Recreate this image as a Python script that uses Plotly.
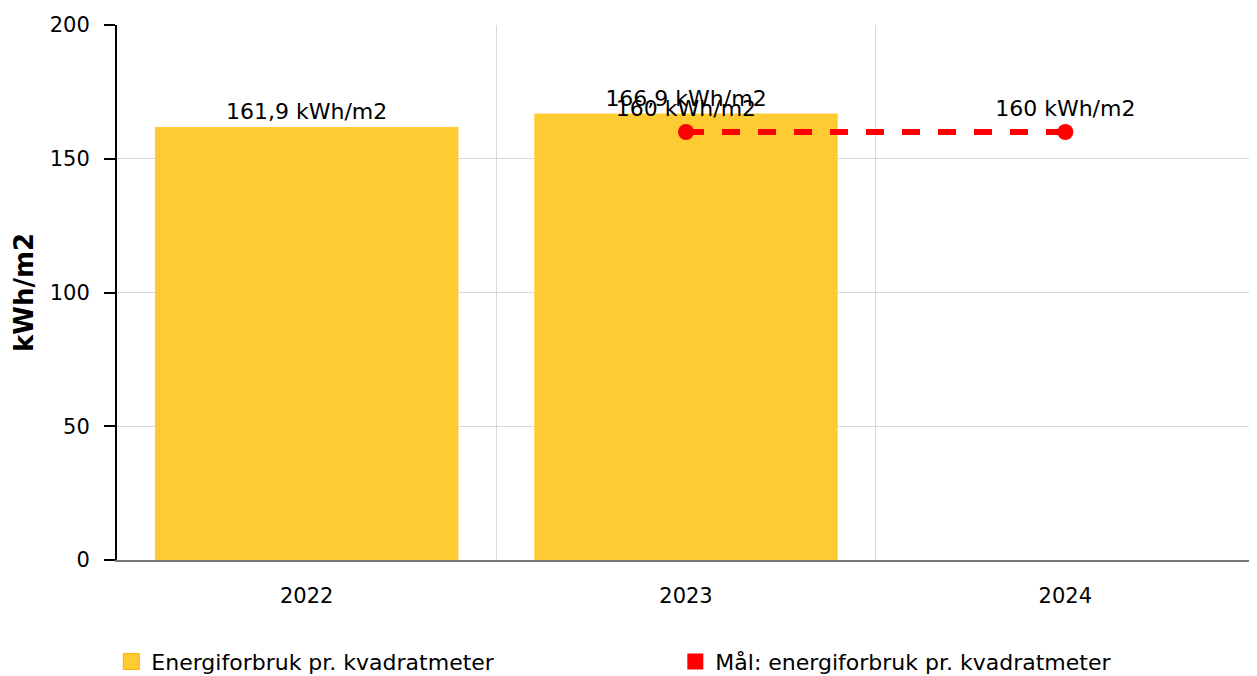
import plotly.graph_objects as go

# Dados
anos = ['2022', '2023', '2024']
forbruk_anos = ['2022', '2023']
forbruk = [161.9, 166.9]
forbruk_tekst = ['161,9 kWh/m2', '166,9 kWh/m2']
maal_anos = ['2023', '2024']
maal = [160, 160]
maal_tekst = ['160 kWh/m2', '160 kWh/m2']

navn_forbruk = 'Energiforbruk pr. kvadratmeter'
navn_maal = 'Mål: energiforbruk pr. kvadratmeter'

fonte = 'DejaVu Sans, Verdana, sans-serif'

fig = go.Figure()

fig.add_trace(go.Bar(
    x=forbruk_anos,
    y=forbruk,
    name=navn_forbruk,
    text=forbruk_tekst,
    textposition='outside',
    cliponaxis=False,
    textfont=dict(size=22, color='black', family=fonte),
    marker=dict(color='#FFCB33', line=dict(width=0)),
    width=0.8,
    showlegend=False
))

fig.add_trace(go.Scatter(
    x=maal_anos,
    y=maal,
    name=navn_maal,
    mode='lines+markers+text',
    text=maal_tekst,
    textposition='top center',
    textfont=dict(size=22, color='black', family=fonte),
    line=dict(color='#FF0000', width=6, dash='18px,18px'),
    marker=dict(color='#FF0000', size=16),
    cliponaxis=False,
    showlegend=False
))

# bare for legenden (firkanter)
fig.add_trace(go.Scatter(
    x=[None], y=[None], mode='markers', name=navn_forbruk,
    marker=dict(symbol='square', size=16, color='#FFCB33',
                line=dict(color='#F2B400', width=1))
))
fig.add_trace(go.Scatter(
    x=[None], y=[None], mode='markers', name=navn_maal,
    marker=dict(symbol='square', size=16, color='#FF0000')
))

# siden har 8px marg rundt figuren
fig.update_layout(
    width=1249,
    height=668,
    margin=dict(l=109, r=2, t=17, b=116, autoexpand=False),
    plot_bgcolor='white',
    paper_bgcolor='white',
    font=dict(family=fonte, size=21, color='black'),
    bargap=0.2,
    barmode='overlay',
    showlegend=True,
    legend=dict(
        orientation='h',
        x=-0.005, xanchor='left',
        y=-0.151, yanchor='top',
        font=dict(size=22, family=fonte),
        entrywidth=519,
        entrywidthmode='pixels',
        itemsizing='trace',
        traceorder='normal'
    )
)

fig.update_xaxes(
    type='category',
    categoryorder='array',
    categoryarray=anos,
    range=[-0.5, 2.5],
    tickson='boundaries',
    ticks='',
    showgrid=True,
    gridcolor='#D9D9D9',
    gridwidth=1,
    showline=True,
    linecolor='#777777',
    linewidth=2,
    tickfont=dict(size=21),
    ticklabelstandoff=16,
    automargin=False
)

fig.update_yaxes(
    range=[0, 200],
    tickvals=[0, 50, 100, 150, 200],
    showgrid=True,
    gridcolor='#D9D9D9',
    gridwidth=1,
    zeroline=False,
    showline=True,
    linecolor='black',
    linewidth=2,
    ticks='outside',
    ticklen=11,
    tickcolor='black',
    tickwidth=2,
    tickfont=dict(size=21),
    ticklabelstandoff=10,
    automargin=False,
    title=dict(text='<b>kWh/m2</b>', font=dict(size=26), standoff=9)
)

fig.write_html('out.html')
